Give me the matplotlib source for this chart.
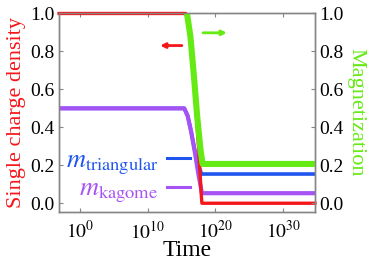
import numpy as np
import matplotlib
matplotlib.use("Agg")
import matplotlib.pyplot as plt
from matplotlib.lines import Line2D

plt.rcParams['font.family'] = ['Liberation Serif', 'DejaVu Serif']
plt.rcParams['font.serif'] = ['Liberation Serif', 'DejaVu Serif']
plt.rcParams['mathtext.fontset'] = 'stix'

# log10(time) knots and values
red_logt = [-3.1, 15.6, 16.0, 16.5, 17.0, 17.5, 17.9, 18.0, 34.7]
red_val = [1.0, 1.0, 0.96, 0.8, 0.55, 0.3, 0.05, 0.0, 0.0]

green_logt = [15.8, 16.3, 16.8, 17.3, 17.8, 18.1, 34.7]
green_val = [1.0, 0.88, 0.68, 0.46, 0.28, 0.207, 0.207]

purple_logt = [-3.1, 15.4, 15.9, 16.4, 17.0, 17.5, 18.0, 34.7]
purple_val = [0.5, 0.5, 0.46, 0.38, 0.26, 0.15, 0.053, 0.053]

blue_logt = [-3.1, 15.4, 15.9, 16.4, 17.0, 17.5, 17.95, 34.7]
blue_val = [0.5, 0.5, 0.46, 0.38, 0.27, 0.2, 0.154, 0.154]

xticks = [1e0, 1e10, 1e20, 1e30]
xticklabels = [r'$10^{0}$', r'$10^{10}$', r'$10^{20}$', r'$10^{30}$']
yticks = [0.0, 0.2, 0.4, 0.6, 0.8, 1.0]

c_red = '#f5161a'
c_green = '#66ea14'
c_blue = '#1f55ee'
c_purple = '#a653f5'
spine_c = '#858585'

fig = plt.figure(figsize=(3.74, 2.69), dpi=100)
ax = fig.add_axes([0.158, 0.212, 0.684, 0.740])
ax2 = ax.twinx()

ax.plot(10.0 ** np.array(red_logt), red_val, color=c_red, lw=2.4, zorder=3, clip_on=False)
ax.plot(10.0 ** np.array(purple_logt), purple_val, color=c_purple, lw=3.0, zorder=2)
ax.plot(10.0 ** np.array(blue_logt), blue_val, color=c_blue, lw=2.6, zorder=1)
ax2.plot(10.0 ** np.array(green_logt), green_val, color=c_green, lw=4.4, zorder=2)

for a in (ax, ax2):
    a.set_xscale('log')
    a.set_xlim(10 ** -3.1, 10 ** 34.7)
    a.set_ylim(-0.046, 1.003)
    a.set_yticks(yticks)
    a.set_yticklabels([f'{v:.1f}' for v in yticks], fontfamily='Liberation Serif', fontsize=14)
    for s in a.spines.values():
        s.set_color(spine_c)
        s.set_linewidth(1.0)
    a.tick_params(direction='in', length=3, width=0.8, color=spine_c, pad=3)
    a.minorticks_off()

ax.set_xticks(xticks)
ax.set_xticklabels(xticklabels, fontsize=14)
ax.tick_params(axis='x', top=True, pad=6)
ax.minorticks_off()
ax2.minorticks_off()

ax.set_xlabel('Time', fontsize=17, labelpad=-2, fontfamily='Liberation Serif')
ax.set_ylabel('Single charge density', fontsize=16, color=c_red, labelpad=3,
              fontfamily='Liberation Serif')
ax2.set_ylabel('Magnetization', fontsize=16, color=c_green, rotation=270, labelpad=16,
               fontfamily='Liberation Serif')

ax.annotate('', xy=(0.395, 0.836), xytext=(0.48, 0.836), xycoords='axes fraction',
            arrowprops=dict(arrowstyle='-|>', color=c_red, lw=2, mutation_scale=7, shrinkA=0, shrinkB=0))
ax.annotate('', xy=(0.656, 0.90), xytext=(0.5625, 0.90), xycoords='axes fraction',
            arrowprops=dict(arrowstyle='-|>', color=c_green, lw=2, mutation_scale=7, shrinkA=0, shrinkB=0))

handles = [Line2D([], [], color=c_blue, lw=2.2), Line2D([], [], color=c_purple, lw=2.2)]
labels = [r'$m_{\mathrm{triangular}}$', r'$m_{\mathrm{kagome}}$']
leg = ax.legend(handles, labels, loc='lower left', bbox_to_anchor=(-0.015, -0.02),
                frameon=False, markerfirst=False, fontsize=19, handlelength=0.9,
                handletextpad=0.3, labelspacing=0.0, borderaxespad=0)
for t, c in zip(leg.get_texts(), [c_blue, c_purple]):
    t.set_color(c)

fig.savefig('out.png', dpi=100)
